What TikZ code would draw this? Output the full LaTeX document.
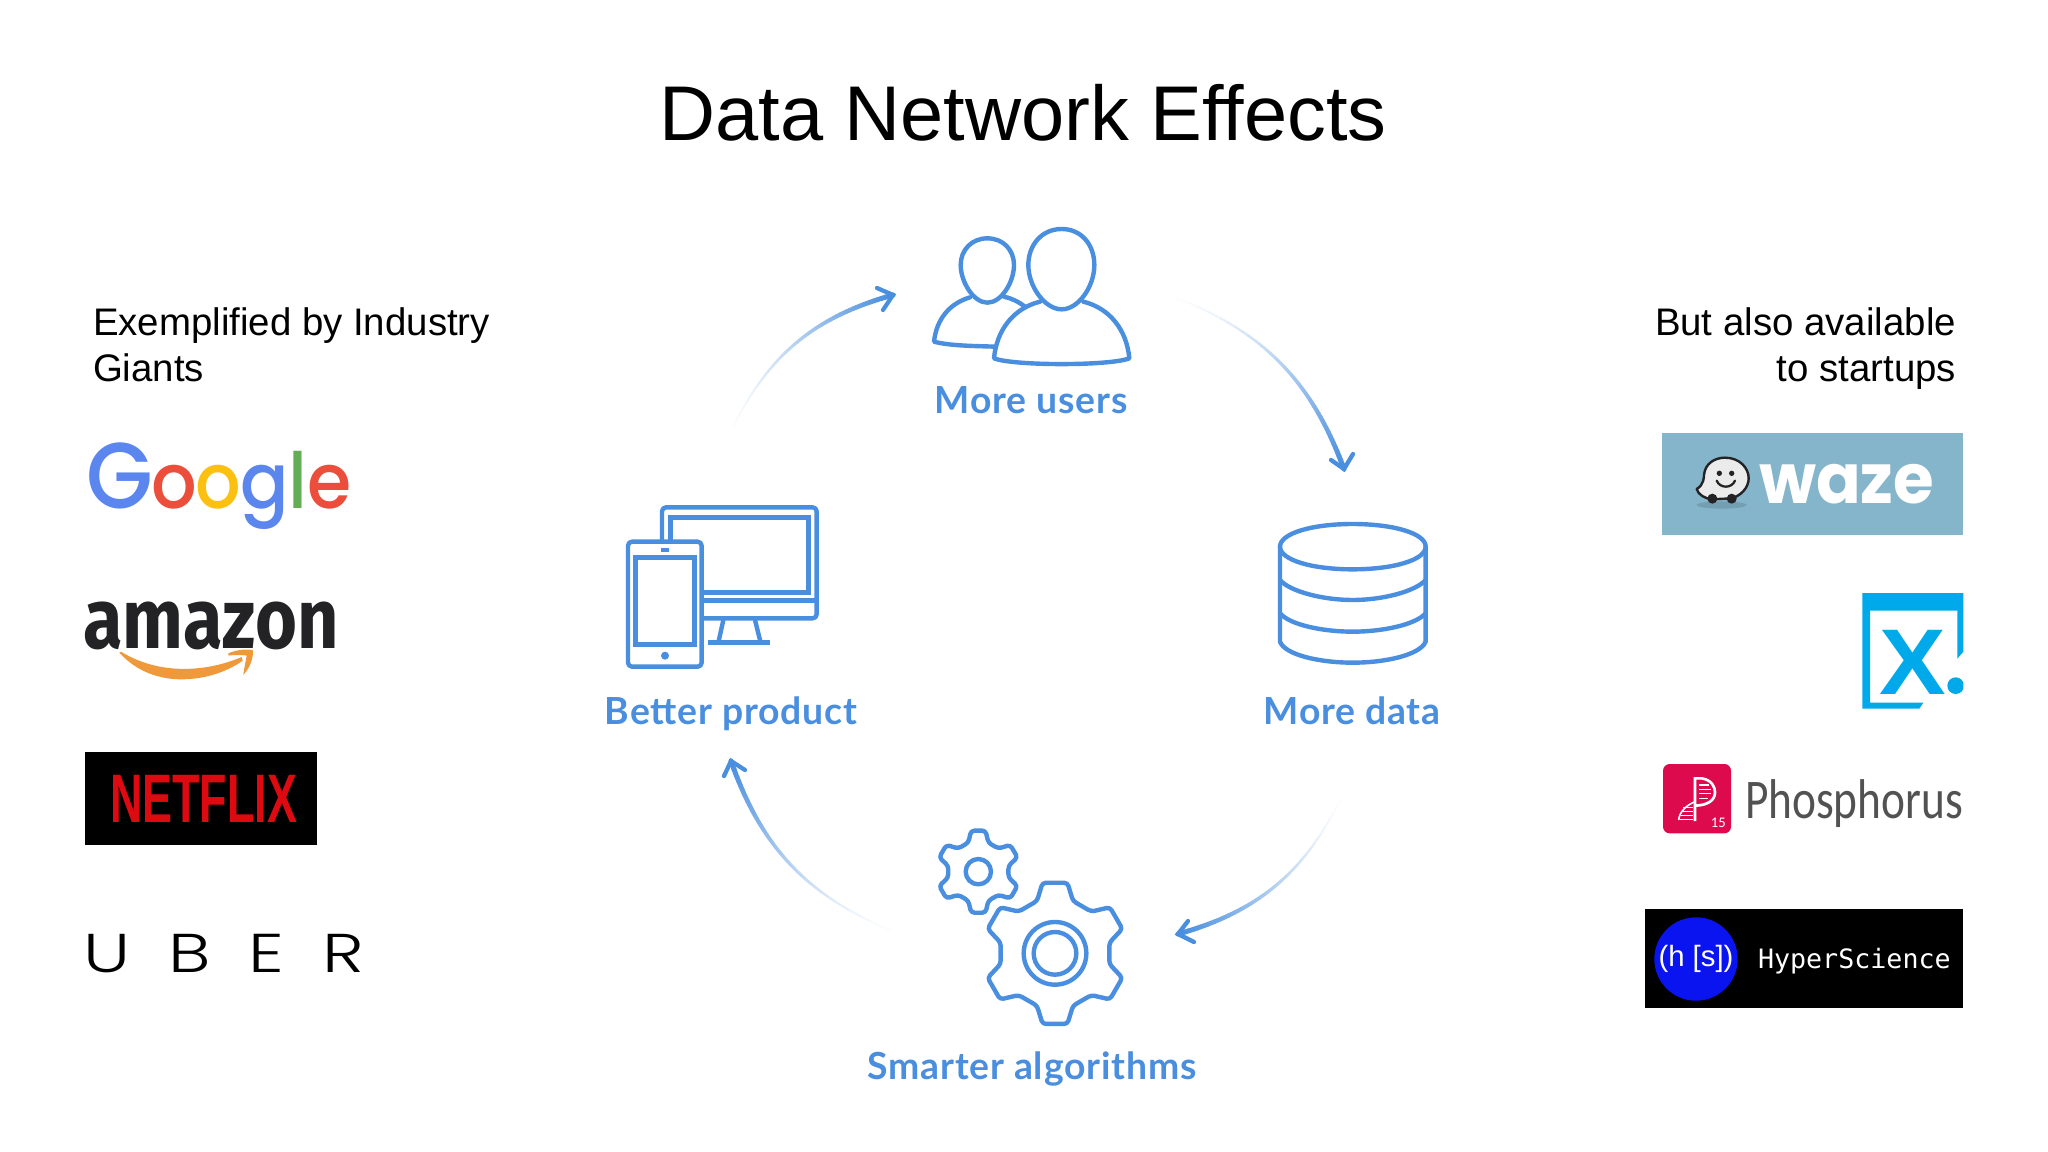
\documentclass[tikz,border=0pt]{standalone}
\usepackage{fontspec}
\setmainfont{Liberation Sans}
\newfontfamily\popm{Poppins Medium}
\newfontfamily\popl{Poppins Light}
\newfontfamily\popb{Poppins}[BoldFont=Poppins Bold]
\newfontfamily\lato{Lato}[BoldFont=Lato Bold,LetterSpace=2.2]
\newfontfamily\fira{Fira Sans}[BoldFont=Fira Sans Bold]
\newfontfamily\carl{Carlito}
\newfontfamily\dmono{DejaVu Sans Mono}
\newcommand{\fs}[1]{\fontsize{#1pt}{#1pt}\selectfont}
\definecolor{iconblue}{HTML}{4A8FDF}
\definecolor{gblue}{HTML}{5B86EE}
\definecolor{gred}{HTML}{EB4F3C}
\definecolor{gyellow}{HTML}{FBC010}
\definecolor{ggreen}{HTML}{63AD55}
\definecolor{nred}{HTML}{DE0A12}
\definecolor{wazebg}{HTML}{85B5CB}
\definecolor{xblue}{HTML}{00A9EA}
\definecolor{phred}{HTML}{DE0A4E}
\definecolor{hsblue}{HTML}{0A14F0}
\definecolor{amz}{HTML}{232326}
\definecolor{swoosh}{HTML}{F0993A}
\tikzset{
  txt/.style={inner sep=0pt,outer sep=0pt},
  icon/.style={draw=iconblue,line width=3.3pt,line join=round,line cap=round,fill=none},
  label/.style={txt,anchor=base,text=iconblue,font=\lato\bfseries\fs{28}},
  side/.style={txt,font=\fs{28.8}},
}
% faded arc between two named coordinates
\newcommand{\fadearrow}[3]{%
  \foreach \i in {0,...,60}{%
    \pgfmathsetmacro\tt{\i/60}%
    \path (#1) to[bend left=#3] coordinate[pos=\tt] (fa#1\i) (#2);
  }%
  \foreach \i [evaluate=\i as \j using int(\i+1)] in {0,...,59}{%
    \pgfmathtruncatemacro\pp{3+97*(\i/59)^1.35}%
    \pgfmathsetmacro\lw{1+2.8*\i/59}%
    \draw[line cap=round,line width=\lw pt,color=iconblue!\pp!white] (fa#1\i) -- (fa#1\j);
  }%
}
\newcommand{\gp}[2]{({\gx+#1*cos(#2)},{\gy+#1*sin(#2)})}
\newcommand{\tooth}[1]{\gp{\gR}{#1-10} -- \gp{\gR}{#1+10} -- \gp{\gr}{#1+19} -- \gp{\gr}{#1+41} --}
\newcommand{\gear}[4]{% cx cy Router Rroot
  \def\gx{#1}\def\gy{#2}\def\gR{#3}\def\gr{#4}%
  \draw[icon,rounded corners=2.5pt] \tooth{30} \tooth{90} \tooth{150} \tooth{210} \tooth{270} \tooth{330} cycle;
}
\begin{document}
\begin{tikzpicture}[x=0.75pt,y=-0.75pt]
\useasboundingbox (0,0) rectangle (2048,1152);
\fill[white] (0,0) rectangle (2048,1152);

% Title and side texts
\node[txt,anchor=base,font=\fs{58.2}] (title) at (1023,141) {Data Network Effects};
\node[side,anchor=base west] (left1) at (93,335) {Exemplified by Industry};
\node[side,anchor=base west] (left2) at (93,381) {Giants};
\node[side,anchor=base east] (right1) at (1956,335) {But also available};
\node[side,anchor=base east] (right2) at (1956,381) {to startups};

% Cycle labels
\node[label] (lusers) at (1031,413) {More users};
\node[label] (ldata) at (1352,724) {More data};
\node[label] (lalgo) at (1032,1079) {Smarter algorithms};
\node[label] (lprod) at (731,724) {Better product};

% Cycle arrows
\coordinate (a1s) at (733,427); \coordinate (a1e) at (893,295);
\coordinate (a2s) at (1177,298); \coordinate (a2e) at (1344,469);
\coordinate (a3s) at (1340,800); \coordinate (a3e) at (1178,934);
\coordinate (a4s) at (890,930); \coordinate (a4e) at (731,761);
\fadearrow{a1s}{a1e}{24}
\fadearrow{a2s}{a2e}{24}
\fadearrow{a3s}{a3e}{24}
\fadearrow{a4s}{a4e}{24}
\tikzset{head/.style={draw=iconblue,line width=3.2pt,line cap=round,line join=miter}}
\draw[head] (877,288) -- (a1e) -- (883,310);
\draw[head] (1331,460) -- (a2e) -- (1353,454);
\draw[head] (1188,921) -- (a3e) -- (1194,942);
\draw[head] (724,776) -- (a4e) -- (745,770);

% Users icon
\begin{scope}[shift={(900,210)},scale=1/3]
\draw[icon] (262,85) .. controls (310,85) and (342,120) .. (342,165) .. controls (342,215) and (305,278) .. (262,278) .. controls (220,278) and (182,215) .. (182,165) .. controls (182,120) and (215,85) .. (262,85) -- cycle;
\draw[icon] (485,57) .. controls (545,57) and (583,105) .. (583,165) .. controls (583,230) and (535,298) .. (485,298) .. controls (435,298) and (385,230) .. (385,165) .. controls (385,105) and (425,57) .. (485,57) -- cycle;
\draw[icon] (420,275) .. controls (340,295) and (290,360) .. (282,445) .. controls (340,468) and (630,468) .. (688,445) .. controls (680,360) and (630,295) .. (550,275);
\draw[icon] (210,262) .. controls (150,280) and (110,325) .. (102,395) .. controls (150,408) and (230,408) .. (285,410);
\draw[icon] (312,260) .. controls (335,265) and (355,275) .. (375,290);
\end{scope}

% Database icon
\begin{scope}[shift={(1260,510)},scale=1/3]
\draw[icon] (278,42) .. controls (400,42) and (497,70) .. (497,110) .. controls (497,150) and (400,178) .. (278,178) .. controls (156,178) and (60,150) .. (60,110) .. controls (60,70) and (156,42) .. (278,42) -- cycle;
\draw[icon] (60,110) -- (60,395) .. controls (75,435) and (180,458) .. (278,458) .. controls (376,458) and (480,435) .. (497,395) -- (497,110);
\draw[icon] (60,210) .. controls (90,245) and (190,270) .. (278,270) .. controls (366,270) and (465,245) .. (497,210);
\draw[icon] (60,310) .. controls (90,345) and (190,365) .. (278,365) .. controls (366,365) and (465,345) .. (497,310);
\end{scope}

% Gears icon
\begin{scope}[shift={(920,810)},scale=1/3]
\gear{175}{185}{125}{92}
\draw[icon] (175,185) circle (38);
\gear{405}{430}{215}{166}
\draw[icon] (405,430) circle (94);
\draw[icon] (405,430) circle (64);
\end{scope}

% Devices icon
\begin{scope}[shift={(600,490)},scale=1/3]
\draw[icon,rounded corners=3pt] (186,153) -- (186,52) -- (650,52) -- (650,385) -- (305,385);
\draw[icon,line cap=butt,line join=miter] (212,153) -- (212,82) -- (625,82) -- (625,307) -- (305,307);
\draw[icon,line cap=butt] (305,332) -- (650,332);
\draw[icon,line cap=butt] (370,390) -- (355,458);
\draw[icon,line cap=butt] (465,390) -- (482,458);
\draw[icon,line cap=butt] (323,458) -- (510,458);
\draw[icon,rounded corners=3pt,fill=white] (84,155) rectangle (305,530);
\draw[icon,line join=miter] (107,203) rectangle (283,463);
\fill[iconblue] (182,173) rectangle (208,185);
\fill[iconblue] (195,497) circle (12);
\end{scope}

% Google
\node[txt,anchor=base west,font=\popm\fs{58},xscale=.925] (google) at (86,508)
 {\textcolor{gblue}{\fs{70}G}\kern-1pt\textcolor{gred}{o}\kern-1pt\textcolor{gyellow}{o}\kern-1pt\textcolor{gblue}{g}\textcolor{ggreen}{l}\textcolor{gred}{e}};

% Amazon
\node[txt,anchor=base west,text=amz,font=\fira\bfseries\fs{54},yscale=1.18] (amazon) at (83,648) {amazon};
\begin{scope}[shift={(60,420)},xscale=1/3,yscale=1/2.7]
\fill[swoosh] (178,628) .. controls (240,690) and (320,702) .. (375,700) .. controls (440,698) and (500,680) .. (548,650) -- (545,640) .. controls (440,680) and (300,690) .. (184,626) -- cycle;
\fill[swoosh] (505,630) .. controls (530,620) and (560,618) .. (578,621) .. controls (582,640) and (570,670) .. (550,688) .. controls (552,670) and (558,650) .. (560,636) .. controls (545,634) and (525,634) .. (505,636) -- cycle;
\end{scope}

% Netflix
\node[fill=black,minimum width=174pt,minimum height=69.75pt,txt,anchor=north west] (nfbox) at (85,752) {};
\node[txt,text=nred,font=\bfseries\fs{44},xscale=0.765,yscale=1.17] (nftext) at ([xshift=2pt]nfbox.center) {NETFLIX};

% Uber
\node[txt,anchor=base west,font=\popl\fs{41},xscale=1.3] (uber) at (83,972) {U\hspace{22pt}B\hspace{22pt}E\hspace{22pt}R};

% Waze
\fill[wazebg] (1662,433) rectangle (1963,535);
\begin{scope}[shift={(1630,420)},scale=1/3]
\fill[wazebg!65!black,opacity=.35] (275,255) ellipse (75 and 11);
\draw[line width=1.8pt,draw=amz,fill=white!92!black,line join=round] (200,207) .. controls (222,195) and (222,170) .. (222,165) .. controls (225,130) and (255,113) .. (285,113) .. controls (330,113) and (356,145) .. (356,175) .. controls (356,205) and (330,228) .. (305,235) -- (245,238) .. controls (225,235) and (205,225) .. (200,207) -- cycle;
\fill[amz] (268,160) circle (8) (305,160) circle (8) (247,236) circle (15) (305,236) circle (15);
\draw[line width=1.7pt,draw=amz,line cap=round] (260,182) .. controls (270,206) and (305,206) .. (315,182);
\end{scope}
\node[txt,anchor=base west,text=white,font=\popb\bfseries\fs{52},xscale=.95] (waze) at (1759,503) {waze};

% X logo
\begin{scope}[shift={(1630,420)},scale=1/3]
\fill[xblue] (697,519) -- (1000,519) -- (1000,695) -- (982,716) -- (982,572) -- (720,572) -- (720,848) -- (880,848) -- (868,866) -- (697,866) -- cycle;
\begin{scope}
\clip (900,700) rectangle (1000,880);
\fill[xblue] (977,797) circle (25);
\end{scope}
\end{scope}
\node[txt,anchor=base,text=xblue,font=\bfseries\fs{70},xscale=1.07] (xlogo) at (1913,694) {X};

% Phosphorus
\begin{scope}[shift={(1630,740)},scale=1/3]
\fill[phred,rounded corners=5pt] (99,72) rectangle (303,280);
\draw[white,line width=2pt] (195,243) -- (195,115) -- (215,115) .. controls (245,120) and (255,140) .. (255,157) .. controls (255,180) and (235,195) .. (197,197);
\draw[white,line width=1.2pt] (146,240) .. controls (148,215) and (170,195) .. (195,185);
\draw[white,line width=.8pt] (207,135) -- (238,135) (207,148) -- (243,148) (207,160) -- (243,160) (207,175) -- (235,175);
\draw[white,line width=.8pt] (160,202) -- (190,202) (155,214) -- (190,214) (152,226) -- (190,226) (150,238) -- (190,238);
\node[txt,text=white,font=\carl\fs{11}] (p15) at (265,249) {15};
\end{scope}
\node[txt,anchor=base west,text=black!68,font=\carl\fs{42},xscale=.81] (phos) at (1745,818) {Phosphorus};

% HyperScience
\node[fill=black,minimum width=238.5pt,minimum height=74.25pt,txt,anchor=north west] (hsbox) at (1645,909) {};
\fill[hsblue] (1696,959) circle (41.7);
\node[txt,text=white,font=\fs{22}] (hslogo) at (1696,959) {(h [s])};
\node[txt,anchor=base west,text=white,font=\dmono\fs{20}] (hs) at (1758,968) {HyperScience};
\end{tikzpicture}
\end{document}
